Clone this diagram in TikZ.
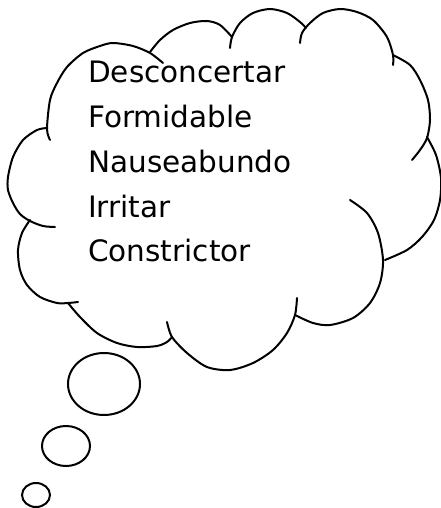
\documentclass[tikz,border=0pt]{standalone}
\usepackage{fontspec}
\setmainfont{DejaVu Sans}
\usetikzlibrary{positioning}
\tikzstyle{lobe}=[draw,line width=2pt,line cap=round,line join=round]
\tikzstyle{bubble}=[draw,line width=2pt]
\tikzstyle{word}=[inner sep=0pt,anchor=base west,font=\fontsize{29.5}{34}\selectfont]

\begin{document}
\begin{tikzpicture}[x=1pt,y=-1pt]
  \useasboundingbox (0,0) rectangle (440,508);

  % cloud, one puff at a time
  \draw[lobe] plot[smooth] coordinates {(50,140) (47,129) (50,100) (57,83) (67,67) (83,53) (100,46) (113,43) (133,46) (150,53) (163,63)};
  \draw[lobe] plot[smooth] coordinates {(150,52) (160,40) (173,30) (190,23) (207,21) (220,25) (232,37)};
  \draw[lobe] plot[smooth] coordinates {(230,48) (232,37) (240,23) (253,13) (270,9) (287,13) (300,22) (306,28)};
  \draw[lobe] plot[smooth] coordinates {(300,43) (302,33) (310,23) (323,13) (340,9) (357,12) (373,20) (387,37) (393,55) (393,65)};
  \draw[lobe] plot[smooth] coordinates {(393,55) (410,65) (420,80) (428,100) (430,120) (427,138) (420,150) (412,160)};
  \draw[lobe] plot[smooth] coordinates {(427,137) (436,155) (441,178) (440,200) (434,220) (422,237) (407,250) (385,260)};
  \draw[lobe] plot[smooth] coordinates {(350,200) (367,213) (378,233) (383,260) (380,283) (370,303) (353,318) (330,325) (313,323) (295,315)};
  \draw[lobe] plot[smooth] coordinates {(297,298) (295,315) (287,333) (273,350) (253,363) (230,370) (207,367) (187,353) (172,337) (167,322)};
  \draw[lobe] plot[smooth] coordinates {(68,303) (80,317) (97,333) (117,343) (137,347) (157,346) (167,342) (172,337)};
  \draw[lobe] plot[smooth] coordinates {(30,220) (22,233) (18,250) (20,270) (27,285) (40,297) (57,303) (68,303) (78,302)};
  \draw[lobe] plot[smooth] coordinates {(47,128) (37,130) (23,140) (13,157) (8,177) (8,190) (13,203) (20,214) (30,221) (43,226) (55,227)};

  % trail of bubbles
  \draw[bubble] (104,384) ellipse (36 and 31);
  \draw[bubble] (66,446) ellipse (24 and 20);
  \draw[bubble] (36,495) ellipse (14 and 12);

  \node[word] (w1) at (88,83) {Desconcertar};
  \node[word] (w2) [below=44.7pt of w1.base west,anchor=base west] {Formidable};
  \node[word] (w3) [below=44.7pt of w2.base west,anchor=base west] {Nauseabundo};
  \node[word] (w4) [below=44.7pt of w3.base west,anchor=base west] {Irritar};
  \node[word] (w5) [below=44.7pt of w4.base west,anchor=base west] {Constrictor};
\end{tikzpicture}
\end{document}
